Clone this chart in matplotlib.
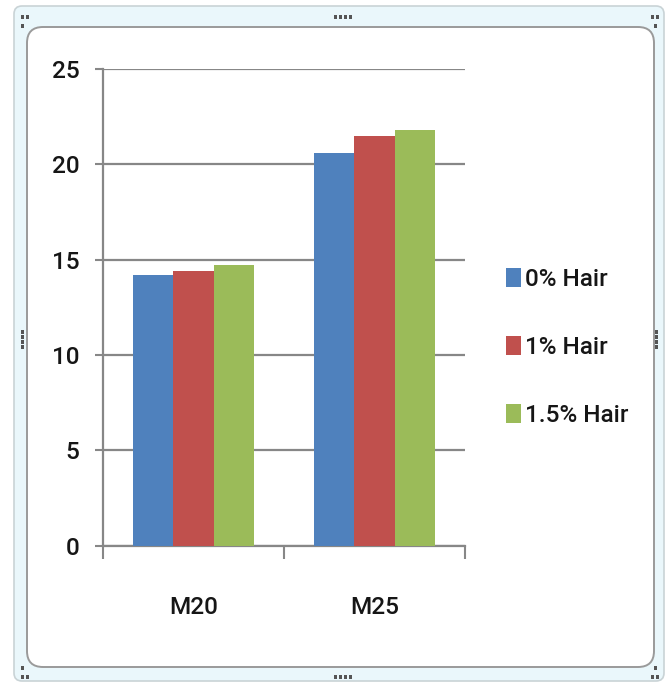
import matplotlib
matplotlib.use("Agg")
import matplotlib.pyplot as plt
from matplotlib.patches import FancyBboxPatch, Rectangle
from matplotlib.transforms import Affine2D
import numpy as np

# Data
categories = ["M20", "M25"]
series_names = ["0% Hair", "1% Hair", "1.5% Hair"]
hair_0 = [14.2, 20.6]
hair_1 = [14.4, 21.5]
hair_15 = [14.7, 21.8]
y_ticks = [0, 5, 10, 15, 20, 25]

colors = ["#4f81bd", "#c0504d", "#9bbb59"]
FONT = ["Roboto", "DejaVu Sans"]
FSIZE = 17.5
WEIGHT = "medium"
TEXT_COLOR = "#161616"
GRID = "#878787"

W, H = 670, 686
fig = plt.figure(figsize=(W / 100, H / 100), dpi=100)
fig.patch.set_facecolor("white")

# pixel transform (origin top-left)
px = Affine2D().scale(1 / W, -1 / H).translate(0, 1) + fig.transFigure

# Outer selection frame and inner chart area
outer = FancyBboxPatch((14, 6), 650, 675, boxstyle="round,pad=0,rounding_size=8",
                       transform=px, facecolor="#eaf7fb", edgecolor="#c9d3d6",
                       linewidth=1.2, zorder=0)
fig.patches.append(outer)
inner = FancyBboxPatch((27, 27), 627, 640, boxstyle="round,pad=0,rounding_size=16",
                       transform=px, facecolor="white", edgecolor="#9a9a9a",
                       linewidth=1.4, zorder=0.5)
fig.patches.append(inner)

# Resize handles
def handle_dots(x0, y0, n, horizontal=True, step=5):
    for i in range(n):
        x = x0 + (i * step if horizontal else 0)
        y = y0 + (0 if horizontal else i * step)
        fig.patches.append(Rectangle((x, y), 2.5, 3.5, transform=px,
                                     facecolor="#555555", edgecolor="none", zorder=1))

handle_dots(334, 15, 4)
handle_dots(334, 675, 4)
handle_dots(21, 15, 2, step=5)
handle_dots(21, 24, 1)
handle_dots(651, 15, 2, step=5)
handle_dots(654, 24, 1)
handle_dots(21, 675, 2, step=5)
handle_dots(21, 666, 1)
handle_dots(651, 675, 2, step=5)
handle_dots(654, 666, 1)
handle_dots(21, 330, 4, horizontal=False)
handle_dots(655, 330, 4, horizontal=False)

# Plot area
left, right, top, bottom = 103, 465, 69, 545.7
ax = fig.add_axes([left / W, 1 - bottom / H, (right - left) / W, (bottom - top) / H])
ax.set_facecolor("none")
ax.set_zorder(2)

x = np.arange(len(categories))
bw = 1 / 4.5
series = [hair_0, hair_1, hair_15]
for i, (vals, name, c) in enumerate(zip(series, series_names, colors)):
    ax.bar(x + (i - 1) * bw, vals, width=bw, color=c, label=name, zorder=3,
           edgecolor="none")

ax.set_xlim(-0.5, len(categories) - 0.5)
ax.set_ylim(0, 25)
ax.set_yticks(y_ticks)
ax.set_yticklabels([str(v) for v in y_ticks])
ax.yaxis.grid(True, color=GRID, linewidth=1.6, zorder=1)
ax.set_axisbelow(True)

# category labels centred, tick marks on category boundaries
ax.set_xticks(x)
ax.set_xticklabels(categories)
ax.tick_params(axis="x", which="major", length=0, pad=36, labelsize=FSIZE,
               labelcolor=TEXT_COLOR)
ax.set_xticks(np.arange(len(categories) + 1) - 0.5, minor=True)
ax.tick_params(axis="x", which="minor", length=9, width=1.5, color=GRID)
ax.tick_params(axis="y", length=6, width=1.5, color=GRID, pad=11,
               labelsize=FSIZE, labelcolor=TEXT_COLOR)
for lab in ax.get_xticklabels() + ax.get_yticklabels():
    lab.set_family(FONT)
    lab.set_fontweight(WEIGHT)

for s in ["top", "right"]:
    ax.spines[s].set_visible(False)
for s in ["left", "bottom"]:
    ax.spines[s].set_color(GRID)
    ax.spines[s].set_linewidth(1.6)

leg = ax.legend(loc="center left", bbox_to_anchor=(506 / W, 1 - 347.7 / H),
                bbox_transform=fig.transFigure, frameon=False,
                prop={"family": FONT, "size": FSIZE, "weight": WEIGHT},
                handlelength=0.6, handleheight=0.8, handletextpad=0.2,
                labelspacing=1.85, borderpad=0, borderaxespad=0)
for t in leg.get_texts():
    t.set_color(TEXT_COLOR)

fig.savefig("out.png", dpi=100)
